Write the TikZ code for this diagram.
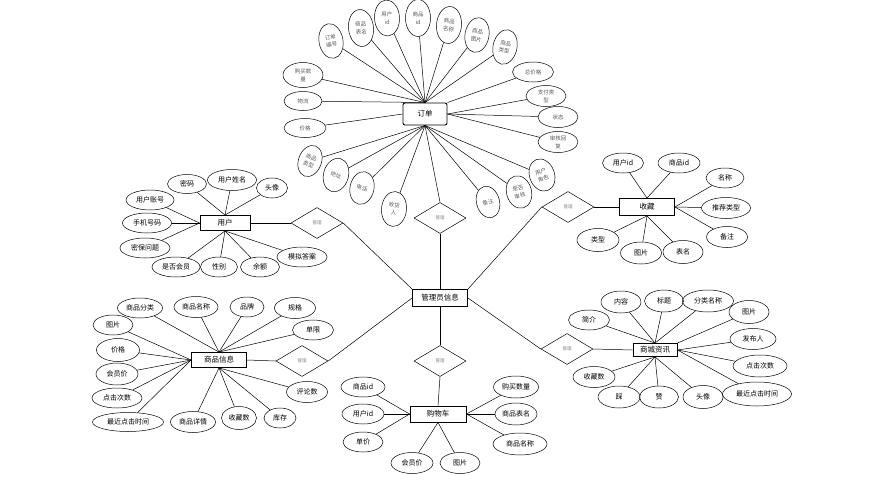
\documentclass[tikz,border=0pt]{standalone}
\usepackage{fontspec}
\setmainfont{Noto Sans CJK SC}
\usetikzlibrary{shapes.geometric}

\begin{document}
\begin{tikzpicture}[x=1pt,y=-1pt,line width=0.5pt,
  attr/.style 2 args={draw,ellipse,minimum width=#1pt,minimum height=#2pt,inner sep=0pt,align=center,font=\fontsize{7}{8}\selectfont},
  oattr/.style 2 args={attr={#1}{#2},text=black!65,font=\fontsize{5.5}{8}\selectfont},
  ent/.style 2 args={draw,rectangle,minimum width=#1pt,minimum height=#2pt,inner sep=0pt,line width=0.9pt,font=\fontsize{7.5}{8}\selectfont},
  rel/.style={draw,diamond,minimum width=52pt,minimum height=31pt,inner sep=0pt,text=black!50,font=\fontsize{4.5}{5}\selectfont}]

\useasboundingbox (0,0) rectangle (886,482);

% entities
\node[ent={44}{22},rounded corners=2pt] (order) at (425,114) {订单};
\node[ent={50}{15}] (user) at (225,223) {用户};
\node[ent={55}{17}] (fav) at (647,207) {收藏};
\node[ent={55}{15}] (goods) at (219,360) {商品信息};
\node[ent={44}{13}] (news) at (655,350) {商城资讯};
\node[ent={56}{16}] (cart) at (438,414) {购物车};
\node[ent={55}{17}] (admin) at (440,298) {管理员信息};

% relations
\node[rel] (rOrder) at (440,218) {管理};
\node[rel] (rUser) at (317,223) {管理};
\node[rel] (rFav) at (568,207) {管理};
\node[rel] (rGoods) at (302,361) {管理};
\node[rel] (rNews) at (567,349) {管理};
\node[rel] (rCart) at (440,361) {管理};

\draw (order.south) -- (rOrder.north);
\draw (rOrder.south) -- (admin.north);
\draw (user.east) -- (rUser.west);
\draw (rUser.east) -- (admin.north west);
\draw (fav.west) -- (rFav.east);
\draw (rFav.west) -- (admin.north east);
\draw (goods.east) -- (rGoods.west);
\draw (rGoods.east) -- (admin.west);
\draw (news.west) -- (rNews.east);
\draw (rNews.west) -- (admin.east);
\draw (admin.south) -- (rCart.north);
\draw (rCart.south) -- (cart.north);

% order
\node[oattr={24}{35},rotate=10] (o1) at (331,41) {订单\\编号};
\node[oattr={25}{37},rotate=6] (o2) at (361,28) {商品\\表名};
\node[oattr={25}{36},rotate=3] (o3) at (387,18) {用户\\id};
\node[oattr={25}{37}] (o4) at (418,18) {商品\\id};
\node[oattr={25}{37},rotate=-5] (o5) at (449,25) {商品\\名称};
\node[oattr={24}{35},rotate=-10] (o6) at (477,35) {商品\\图片};
\node[oattr={24}{35},rotate=-12] (o7) at (505,47) {商品\\类型};
\node[oattr={40}{25}] (o8) at (303,75) {购买数\\量};
\node[oattr={38}{19}] (o9) at (303,101) {物流};
\node[oattr={42}{19}] (o10) at (305,128) {价格};
\node[oattr={23}{32},rotate=-20] (o11) at (310,161) {商品\\类型};
\node[oattr={25}{34},rotate=-15] (o12) at (336,175) {地址};
\node[oattr={24}{33},rotate=-12] (o13) at (362,188) {电话};
\node[oattr={25}{35},rotate=-5] (o14) at (394,209) {收货\\人};
\node[oattr={23}{32},rotate=15] (o15) at (488,202) {备注};
\node[oattr={25}{33},rotate=15] (o16) at (519,192) {是否\\审核};
\node[oattr={25}{33},rotate=20] (o17) at (542,175) {用户\\角色};
\node[oattr={41}{20}] (o18) at (533,72) {总价格};
\node[oattr={40}{21}] (o19) at (546,96) {支付类\\型};
\node[oattr={40}{21}] (o20) at (558,117) {状态};
\node[oattr={40}{21}] (o21) at (558,142) {审核回\\复};

\draw (o1) -- (order.north);
\draw (o2) -- (order.north);
\draw (o3) -- (order.north);
\draw (o4) -- (order.north);
\draw (o5) -- (order.north);
\draw (o6) -- (order.north);
\draw (o7) -- (order.north);
\draw (o8) -- (order.north);
\draw (o9) -- (order.north);
\draw (o10) -- (order.west);
\draw (o11) -- (order.south);
\draw (o12) -- (order.south);
\draw (o13) -- (order.south);
\draw (o14) -- (order.south);
\draw (o15) -- (order.south);
\draw (o16) -- (order.south);
\draw (o17) -- (order.south);
\draw (o18) -- (order.north east);
\draw (o19) -- (order.east);
\draw (o20) -- (order.east);
\draw (o21) -- (order.east);

% user
\node[attr={39}{19}] (u1) at (187,184) {密码};
\node[attr={49}{21}] (u2) at (232,180) {用户姓名};
\node[attr={31}{20}] (u3) at (272,188) {头像};
\node[attr={48}{20}] (u4) at (150,200) {用户账号};
\node[attr={49}{20}] (u5) at (147,223) {手机号码};
\node[attr={50}{20}] (u6) at (145,248) {密保问题};
\node[attr={48}{20}] (u7) at (176,267) {是否会员};
\node[attr={37}{20}] (u8) at (219,267) {性别};
\node[attr={39}{20}] (u9) at (260,267) {余额};
\node[attr={50}{20}] (u10) at (302,257) {模拟答案};

\draw (u1) -- (user.north);
\draw (u2) -- (user.north);
\draw (u3) -- (user.north);
\draw (u4) -- (user.west);
\draw (u5) -- (user.west);
\draw (u6) -- (user.west);
\draw (u7) -- (user.south);
\draw (u8) -- (user.south);
\draw (u9) -- (user.south);
\draw (u10) -- (user.south);

% fav
\node[attr={41}{20}] (f1) at (623,163) {用户id};
\node[attr={42}{20}] (f2) at (679,163) {商品id};
\node[attr={38}{20}] (f3) at (725,178) {名称};
\node[attr={49}{21}] (f4) at (726,208) {推荐类型};
\node[attr={41}{21}] (f5) at (727,237) {备注};
\node[attr={42}{23}] (f6) at (598,240) {类型};
\node[attr={41}{22}] (f7) at (641,253) {图片};
\node[attr={40}{23}] (f8) at (683,252) {表名};

\draw (f1) -- (fav.north);
\draw (f2) -- (fav.north);
\draw (f3) -- (fav.east);
\draw (f4) -- (fav.east);
\draw (f5) -- (fav.east);
\draw (f6) -- (fav.south);
\draw (f7) -- (fav.south);
\draw (f8) -- (fav.south);

% goods
\node[attr={45}{20}] (g1) at (140,308) {商品分类};
\node[attr={44}{21}] (g2) at (196,307) {商品名称};
\node[attr={34}{20}] (g3) at (247,307) {品牌};
\node[attr={41}{21}] (g4) at (295,308) {规格};
\node[attr={41}{20}] (g5) at (313,330) {单限};
\node[attr={40}{20}] (g6) at (113,325) {图片};
\node[attr={43}{23}] (g7) at (118,350) {价格};
\node[attr={42}{22}] (g8) at (117,374) {会员价};
\node[attr={50}{20}] (g9) at (117,398) {点击次数};
\node[attr={71}{19}] (g10) at (128,422) {最近点击时间};
\node[attr={45}{21}] (g11) at (193,422) {商品详情};
\node[attr={35}{23}] (g12) at (239,418) {收藏数};
\node[attr={32}{20}] (g13) at (280,418) {库存};
\node[attr={41}{21}] (g14) at (307,392) {评论数};

\draw (g1) -- (goods.north);
\draw (g2) -- (goods.north);
\draw (g3) -- (goods.north);
\draw (g4) -- (goods.north);
\draw (g5) -- (goods.north);
\draw (g6) -- (goods.west);
\draw (g7) -- (goods.west);
\draw (g8) -- (goods.west);
\draw (g9) -- (goods.west);
\draw (g10) -- (goods.west);
\draw (g11) -- (goods.south);
\draw (g12) -- (goods.south);
\draw (g13) -- (goods.south);
\draw (g14) -- (goods.south);

% news
\node[attr={41}{20}] (n1) at (589,320) {简介};
\node[attr={40}{22}] (n2) at (621,302) {内容};
\node[attr={39}{22}] (n3) at (664,301) {标题};
\node[attr={51}{22}] (n4) at (708,301) {分类名称};
\node[attr={40}{23}] (n5) at (749,312) {图片};
\node[attr={46}{21}] (n6) at (753,339) {发布人};
\node[attr={54}{22}] (n7) at (760,366) {点击次数};
\node[attr={69}{24}] (n8) at (757,394) {最近点击时间};
\node[attr={40}{23}] (n9) at (703,397) {头像};
\node[attr={39}{22}] (n10) at (659,397) {赞};
\node[attr={42}{22}] (n11) at (619,397) {踩};
\node[attr={42}{21}] (n12) at (594,377) {收藏数};

\draw (n1) -- (news.north);
\draw (n2) -- (news.north);
\draw (n3) -- (news.north);
\draw (n4) -- (news.north);
\draw (n5) -- (news.north east);
\draw (n6) -- (news.east);
\draw (n7) -- (news.east);
\draw (n8) -- (news.east);
\draw (n9) -- (news.south);
\draw (n10) -- (news.south);
\draw (n11) -- (news.south);
\draw (n12) -- (news.south);

% cart
\node[attr={44}{20}] (c1) at (363,387) {商品id};
\node[attr={42}{20}] (c2) at (363,414) {用户id};
\node[attr={40}{20}] (c3) at (363,442) {单价};
\node[attr={42}{21}] (c4) at (412,463) {会员价};
\node[attr={40}{21}] (c5) at (460,463) {图片};
\node[attr={45}{22}] (c6) at (516,387) {购买数量};
\node[attr={42}{22}] (c7) at (516,414) {商品表名};
\node[attr={54}{22}] (c8) at (520,444) {商品名称};

\draw (c1) -- (cart.west);
\draw (c2) -- (cart.west);
\draw (c3) -- (cart.west);
\draw (c4) -- (cart.south);
\draw (c5) -- (cart.south);
\draw (c6) -- (cart.east);
\draw (c7) -- (cart.east);
\draw (c8) -- (cart.east);

\end{tikzpicture}
\end{document}
